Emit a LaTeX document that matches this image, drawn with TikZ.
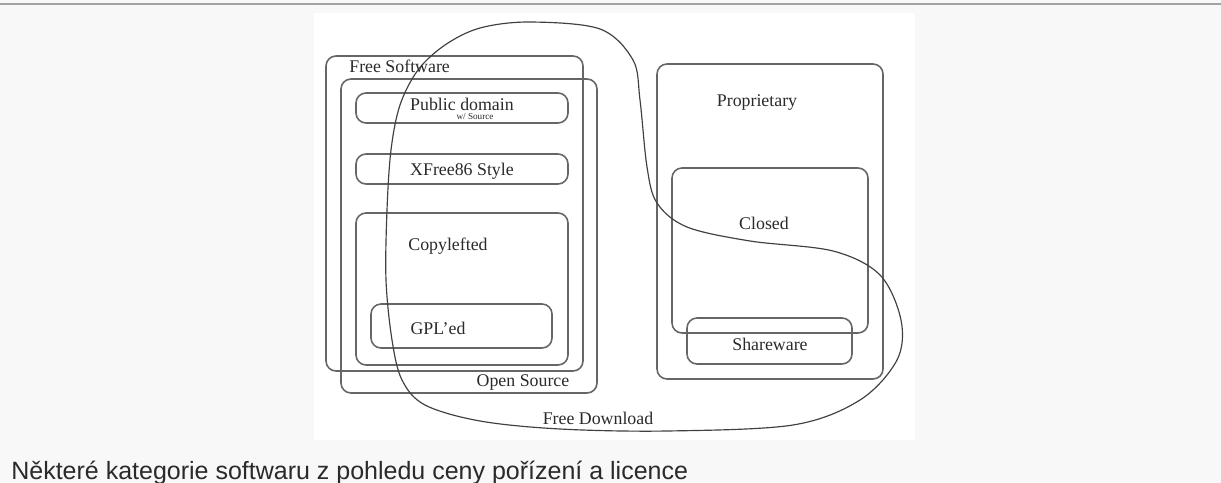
\documentclass[tikz,border=0pt]{standalone}
\usepackage{fontspec}
\setmainfont{Liberation Serif}
\newfontfamily\capfont{Liberation Sans}
\definecolor{pagegray}{HTML}{F8F8F8}
\definecolor{rulegray}{HTML}{A2A2A2}
\definecolor{boxgray}{HTML}{666666}
\definecolor{inkgray}{HTML}{2A2A2A}
\begin{document}
\begin{tikzpicture}[x=0.6pt,y=-0.6pt,
  box/.style={draw=boxgray,line width=0.95pt,rounded corners=6pt},
  lbl/.style={inner sep=0pt,text=inkgray,font=\fontsize{10.7}{12}\selectfont},
  freedl/.style={draw=black!75,line width=0.7pt}]
\useasboundingbox (0,0) rectangle (1221,483);
\fill [pagegray] (0,0) rectangle (1221,483);
\fill [white] (314,13) rectangle (915,440);
\draw [rulegray,line width=1.2pt] (0,3.5) -- (1221,3.5);
% free and open source boxes
\draw [box] (326,56) rectangle (583,371);
\draw [box] (341,79) rectangle (597,393);
\draw [box] (356,93) rectangle (568,123);
\draw [box] (356,154) rectangle (568,184);
\draw [box] (356,213) rectangle (568,365);
\draw [box] (371,304) rectangle (552,348);
% proprietary boxes
\draw [box] (657,64) rectangle (883,379);
\draw [box] (672,168) rectangle (868,333);
\draw [box] (687,318) rectangle (852,364);
% free download loop
\draw [freedl] plot [smooth cycle,tension=0.55] coordinates {
  (530,22) (600,29) (633,60) (640,100) (647,167) (657,203) (687,227)
  (750,241) (833,251) (880,275) (901,320) (897,360) (860,400) (793,425)
  (667,431) (560,429) (480,421) (425,405) (402,380) (392,340) (386,280)
  (387,210) (391,150) (400,105) (418,70) (445,45) (480,28)};
% labels
\node [lbl,anchor=west] (freesw) at (349,66) {Free Software};
\node [lbl] (pubdom) at (462,104) {Public domain};
\node [lbl,font=\fontsize{5.5}{6}\selectfont] (wsrc) at (475,117) {w/ Source};
\node [lbl] (xfree) at (462,171) {XFree86 Style};
\node [lbl] (copyleft) at (448,246) {Copylefted};
\node [lbl] (gpled) at (438,328) {GPL'ed};
\node [lbl] (opensrc) at (523,382) {Open Source};
\node [lbl] (freedown) at (598,418) {Free Download};
\node [lbl] (propr) at (757,103) {Proprietary};
\node [lbl] (closed) at (764,223) {Closed};
\node [lbl] (sharew) at (770,344) {Shareware};
\node [inner sep=0pt,anchor=base west,text=inkgray,font=\capfont\fontsize{15}{18}\selectfont]
  (caption) at (11,479) {Některé kategorie softwaru z pohledu ceny pořízení a licence};
\end{tikzpicture}
\end{document}
